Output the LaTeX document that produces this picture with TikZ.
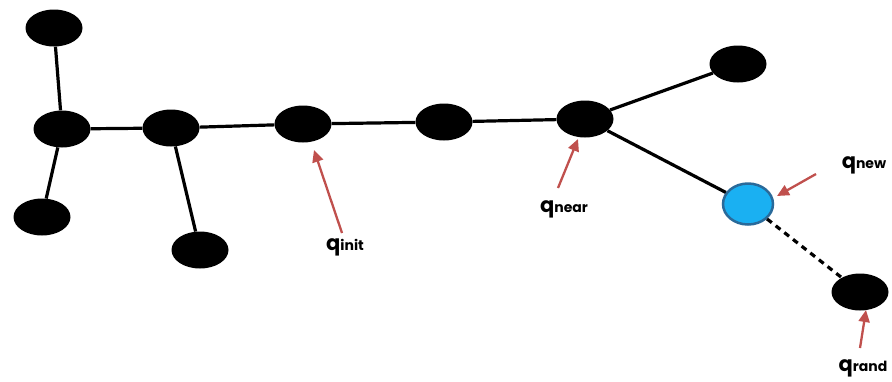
\documentclass[tikz,border=0pt]{standalone}
\usepackage{fontspec}
\setmainfont{Poppins}
\usetikzlibrary{arrows.meta,shapes.geometric}
\definecolor{arrowred}{HTML}{C0504D}
\definecolor{newfill}{HTML}{1AB0F2}
\definecolor{newdraw}{HTML}{2A6A9A}
\tikzset{
  vert/.style={ellipse, fill=black, minimum width=57pt, minimum height=37pt, inner sep=0pt},
  newvert/.style={ellipse, fill=newfill, draw=newdraw, line width=2.5pt, minimum width=50pt, minimum height=41pt, inner sep=0pt},
  edge/.style={line width=3.2pt, black},
  dashedge/.style={line width=3.2pt, black, dashed, dash pattern=on 6pt off 5pt},
  pointer/.style={line width=2.3pt, arrowred, -{Triangle[length=12pt,width=11pt]}},
  lab/.style={inner sep=0pt, font=\bfseries}
}
\newcommand{\qlab}[1]{{\fontsize{21}{21}\selectfont q}{\fontsize{14}{14}\selectfont #1}}
\begin{document}
\begin{tikzpicture}[x=1pt,y=-1pt]
\useasboundingbox (0,0) rectangle (892,381);
\node[vert] (tl) at (54,28) {};
\node[vert] (a) at (62,129) {};
\node[vert] (bl) at (42,217) {};
\node[vert] (b) at (171,128) {};
\node[vert] (bb) at (200,250) {};
\node[vert] (init) at (303,124) {};
\node[vert] (mid) at (444,122) {};
\node[vert] (near) at (585,119) {};
\node[vert] (tr) at (738,64) {};
\node[newvert] (new) at (748,204) {};
\node[vert] (rand) at (860,292) {};

\draw[edge] (tl) -- (a);
\draw[edge] (a) -- (bl);
\draw[edge] (a) -- (b);
\draw[edge] (b) -- (bb);
\draw[edge] (b) -- (init);
\draw[edge] (init) -- (mid);
\draw[edge] (mid) -- (near);
\draw[edge] (near) -- (tr);
\draw[edge] (near) -- (new);
\draw[dashedge] (new) -- (rand);

\node[lab] (linit) at (345,247) {\qlab{init}};
\node[lab] (lnear) at (564,209) {\qlab{near}};
\node[lab] (lnew) at (864,165) {\qlab{new}};
\node[lab] (lrand) at (863,368) {\qlab{rand}};

\coordinate (tinit) at (342,233);
\coordinate (hinit) at (314,150);
\coordinate (tnear) at (558,188);
\coordinate (hnear) at (578,139);
\coordinate (tnew) at (816,174);
\coordinate (hnew) at (777,196);
\coordinate (trand) at (860,348);
\coordinate (hrand) at (866,310);
\draw[pointer] (tinit) -- (hinit);
\draw[pointer] (tnear) -- (hnear);
\draw[pointer] (tnew) -- (hnew);
\draw[pointer] (trand) -- (hrand);
\end{tikzpicture}
\end{document}
